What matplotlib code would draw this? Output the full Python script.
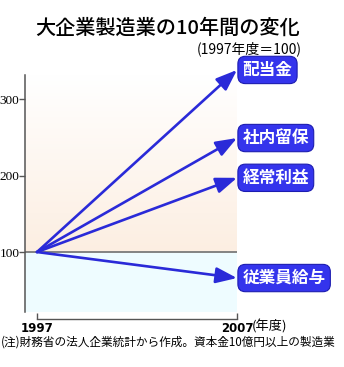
import numpy as np
import matplotlib.pyplot as plt

plt.rcParams['font.family'] = ['Noto Sans CJK JP', 'DejaVu Sans']

# values (1997 = 100)
years = [1997, 2007]
labels = ['配当金', '社内留保', '経常利益', '従業員給与']
end_values = [338, 249, 197, 66]
base = 100
yticks = [100, 200, 300]

fig = plt.figure(figsize=(3.44, 3.67), dpi=100)
ax = fig.add_axes([25/344, 55/367, 212/344, 237/367])
ax.set_xlim(1996.4, 2007)
ax.set_ylim(21.6, 331.4)

# background: white fading to warm peach down to the 100 line, pale cyan below
g = np.linspace(0, 1, 100)
warm = np.ones((100, 1, 3))
warm[:, 0, 0] = 1.0 - 0.01 * g
warm[:, 0, 1] = 1.0 - 0.065 * g
warm[:, 0, 2] = 1.0 - 0.115 * g
ax.imshow(warm, extent=(1996.4, 2007, base, 331.4), aspect='auto', zorder=0)
ax.axhspan(21.6, base, color='#eefcff', zorder=0, lw=0)
ax.axhline(base, color='#7a7a7a', lw=1.3, zorder=1)

for lab, v in zip(labels, end_values):
    ax.annotate('', xy=(years[1], v), xytext=(years[0], base),
                arrowprops=dict(arrowstyle='-|>,head_length=0.85,head_width=0.32',
                                mutation_scale=15, color='#2a2ad8', lw=1.9,
                                shrinkA=0, shrinkB=0),
                annotation_clip=False, zorder=3)
    ax.annotate(lab, xy=(years[1], v), xytext=(4, 0), textcoords='offset points',
                ha='left', va='center', fontsize=12, fontweight='bold', color='white',
                bbox=dict(boxstyle='round,pad=0.28,rounding_size=0.45', fc='#3434ec',
                          ec='#1c1cb0', lw=0.8),
                annotation_clip=False, zorder=4)

for s in ['top', 'right']:
    ax.spines[s].set_visible(False)
ax.spines['left'].set_color('#555555')
ax.spines['left'].set_linewidth(1.1)
ax.spines['bottom'].set_position(('outward', 5))
ax.spines['bottom'].set_bounds(years[0], years[1])
ax.spines['bottom'].set_color('#555555')
ax.spines['bottom'].set_linewidth(1.0)

ax.set_yticks(yticks)
ax.set_yticklabels([str(t) for t in yticks], family='Liberation Serif', fontsize=9.5)
ax.tick_params(axis='y', length=4, width=1, color='#555555', pad=0)
ax.set_xticks(years)
ax.set_xticklabels([str(y) for y in years], family='DejaVu Sans', fontsize=8.5,
                   fontweight='bold')
ax.tick_params(axis='x', direction='in', length=4, width=1, color='#555555', pad=2)
fig.text(252/344, 1 - 326.5/367, '(年度)', ha='left', va='center', fontsize=9.5)

fig.text(300/344, 1 - 28/367, '大企業製造業の10年間の変化', ha='right', va='center',
         fontsize=14.5, fontweight='medium')
fig.text(302/344, 1 - 49/367, '(1997年度＝100)', ha='right', va='center',
         fontsize=10)
fig.text(1/344, 1 - 342/367, '(注)財務省の法人企業統計から作成。資本金10億円以上の製造業',
         ha='left', va='center', fontsize=8.4)

fig.savefig('out.png', dpi=100)
